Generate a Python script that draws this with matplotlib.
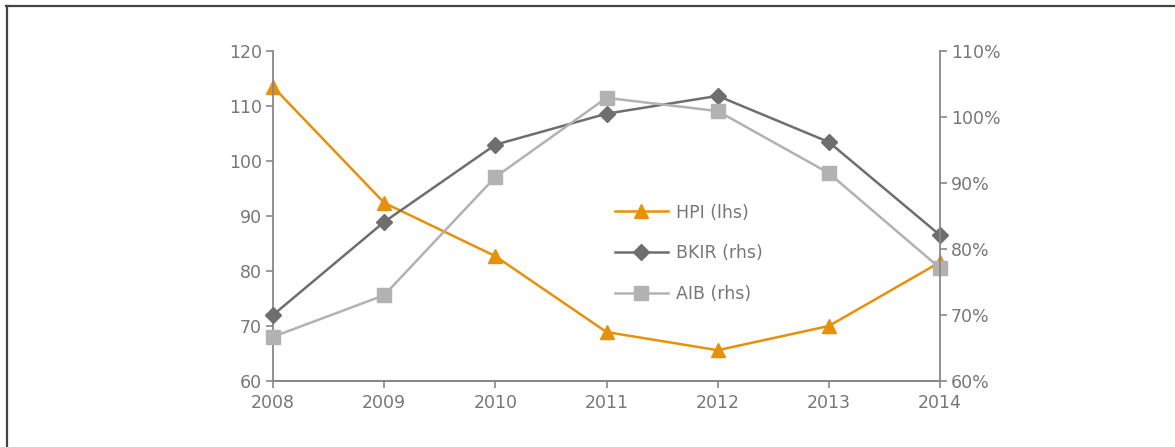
import matplotlib
matplotlib.use("Agg")
import matplotlib.pyplot as plt
from matplotlib.ticker import FuncFormatter

years = [2008, 2009, 2010, 2011, 2012, 2013, 2014]
hpi = [113.5, 92.4, 82.7, 68.9, 65.6, 70.0, 81.6]
bkir = [70.0, 84.1, 95.8, 100.5, 103.2, 96.2, 82.1]
aib = [66.7, 73.0, 90.9, 102.9, 100.9, 91.5, 77.1]

txt = "#777777"
ax_col = "#888888"
plt.rcParams['font.family'] = ['DejaVu Sans']
plt.rcParams['font.size'] = 12.5

fig = plt.figure(figsize=(11.75, 4.47), dpi=100)
ax = fig.add_axes([273 / 1175, 1 - 381 / 447, 667 / 1175, 330 / 447])
ax2 = ax.twinx()

h1, = ax.plot(years, hpi, color="#E8900A", lw=1.8, marker="^", ms=10,
              label="HPI (lhs)", clip_on=False)
h2, = ax2.plot(years, bkir, color="#6E6E6E", lw=1.8, marker="D", ms=8,
               label="BKIR (rhs)", clip_on=False)
h3, = ax2.plot(years, aib, color="#B2B2B2", lw=1.8, marker="s", ms=10,
               label="AIB (rhs)", clip_on=False)

ax.set_xlim(2008, 2014)
ax.set_ylim(60, 120)
ax2.set_ylim(60, 110)
ax.set_xticks(years)
ax.set_yticks(range(60, 121, 10))
ax2.set_yticks(range(60, 111, 10))
ax2.yaxis.set_major_formatter(FuncFormatter(lambda v, p: f"{v:.0f}%"))

for a in (ax, ax2):
    a.spines['top'].set_visible(False)
    for s in ('left', 'right', 'bottom'):
        a.spines[s].set_color(ax_col)
        a.spines[s].set_linewidth(1.3)
    a.tick_params(colors=ax_col, labelcolor=txt, length=5, width=1.2, pad=3)
ax2.spines['left'].set_visible(False)
ax.spines['right'].set_visible(False)
ax.tick_params(axis='x', pad=4)

ax.legend(handles=[h1, h2, h3], loc="upper left", bbox_to_anchor=(0.49, 0.585),
          frameon=False, labelspacing=1.3, handlelength=3.0, handletextpad=0.5,
          labelcolor=txt, fontsize=12.5)

# frame along the top and left edge of the figure
fig.add_artist(plt.Line2D([6 / 1175, 1], [1 - 5.5 / 447, 1 - 5.5 / 447],
                          color="#444444", lw=1.6, transform=fig.transFigure))
fig.add_artist(plt.Line2D([6.5 / 1175, 6.5 / 1175], [0, 1 - 5.5 / 447],
                          color="#444444", lw=1.6, transform=fig.transFigure))

fig.savefig("out.png", dpi=100)
